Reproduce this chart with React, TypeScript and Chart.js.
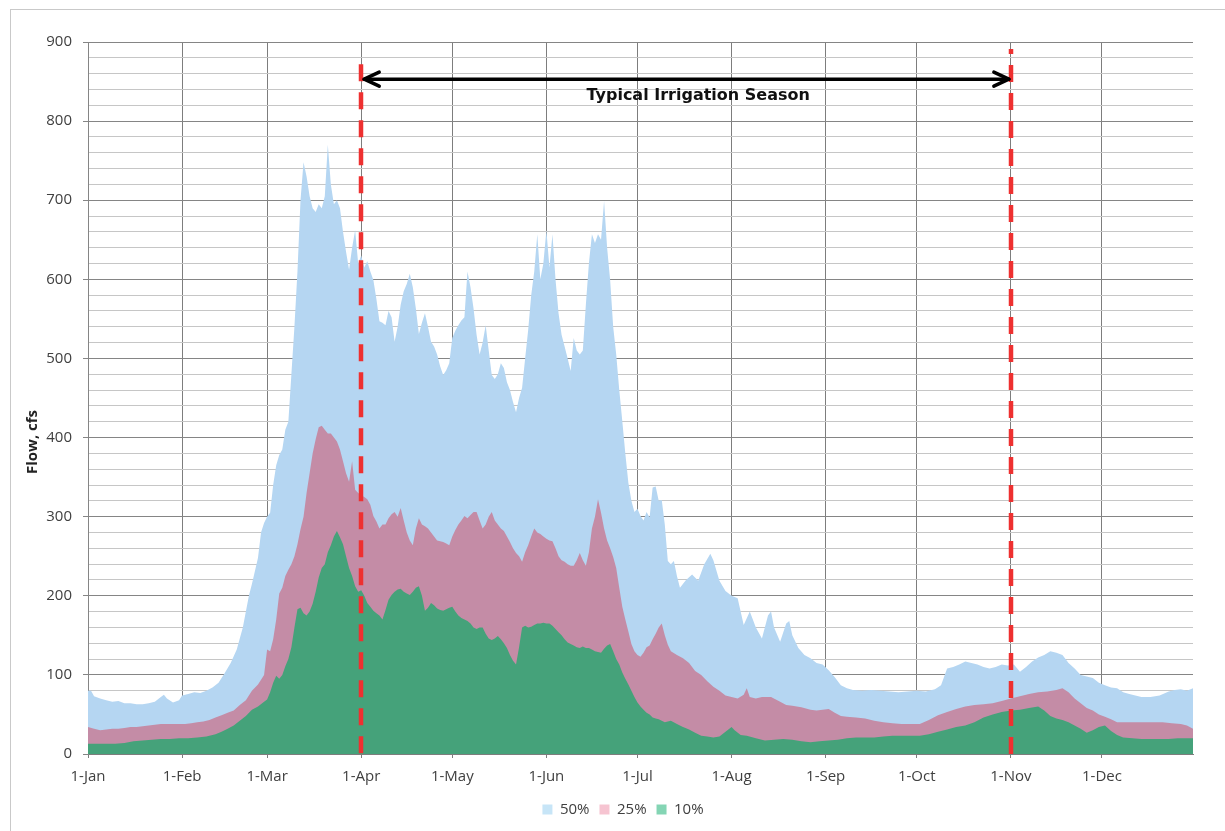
import React, { useEffect, useRef } from "react";
import { Chart, registerables } from "chart.js";

Chart.register(...registerables);

// ---- Data (day of year, flow in cfs) ----
const monthStarts = [0, 31, 59, 90, 120, 151, 181, 212, 243, 273, 304, 334];
const monthLabels = ["1-Jan", "1-Feb", "1-Mar", "1-Apr", "1-May", "1-Jun", "1-Jul", "1-Aug", "1-Sep", "1-Oct", "1-Nov", "1-Dec"];
const seriesNames = ["50%", "25%", "10%"];

const flow50: number[][] = [
  [0, 80], [1, 80], [2, 73], [4, 70], [6, 68], [8, 66], [10, 67], [12, 64], [14, 64], [16, 63], [18, 63], [20, 64], [22, 66],
  [24, 72], [25, 75], [26, 70], [28, 65], [30, 68], [31, 74], [33, 76], [35, 78], [37, 77], [39, 80], [41, 84], [43, 90],
  [45, 102], [47, 115], [49, 132], [51, 160], [53, 200], [54, 215], [56, 248], [57, 280], [58, 292], [59, 300], [60, 305],
  [61, 340], [62, 365], [63, 378], [64, 385], [65, 410], [66, 420], [67, 480], [68, 540], [69, 610], [70, 700], [71, 748],
  [72, 730], [73, 705], [74, 690], [75, 685], [76, 695], [77, 690], [78, 705], [79, 770], [80, 720], [81, 695], [82, 700],
  [83, 690], [84, 660], [85, 635], [86, 612], [87, 640], [88, 662], [89, 620], [90, 630], [91, 615], [92, 623], [93, 610],
  [94, 599], [95, 575], [96, 547], [97, 545], [98, 542], [99, 560], [100, 552], [101, 521], [102, 540], [103, 568], [104, 585],
  [105, 594], [106, 607], [107, 590], [108, 563], [109, 531], [110, 545], [111, 557], [112, 540], [113, 521], [114, 515],
  [115, 505], [116, 490], [117, 479], [118, 485], [119, 494], [120, 526], [121, 535], [122, 542], [123, 548], [124, 552],
  [125, 610], [126, 590], [127, 563], [128, 530], [129, 505], [130, 520], [131, 542], [132, 510], [133, 479], [134, 474],
  [135, 480], [136, 494], [137, 488], [138, 470], [139, 460], [140, 445], [141, 432], [142, 450], [143, 463], [144, 500],
  [145, 536], [146, 580], [147, 610], [148, 657], [149, 600], [150, 620], [151, 662], [152, 615], [153, 657], [154, 600],
  [155, 557], [156, 530], [157, 515], [158, 500], [159, 484], [160, 526], [161, 510], [162, 505], [163, 510], [164, 568],
  [165, 620], [166, 657], [167, 646], [168, 657], [169, 650], [170, 699], [171, 640], [172, 599], [173, 540], [174, 505],
  [175, 460], [176, 421], [177, 380], [178, 343], [179, 320], [180, 306], [181, 310], [182, 301], [183, 295], [184, 306],
  [185, 299], [186, 337], [187, 338], [188, 320], [189, 321], [190, 290], [191, 244], [192, 240], [193, 244], [194, 225],
  [195, 210], [197, 220], [199, 227], [201, 219], [203, 240], [205, 253], [206, 245], [208, 219], [210, 206], [212, 200],
  [214, 197], [216, 163], [218, 180], [220, 160], [222, 146], [224, 175], [225, 180], [226, 160], [228, 142], [230, 165],
  [231, 168], [232, 150], [234, 134], [236, 125], [238, 121], [240, 115], [242, 113], [244, 106], [246, 97], [248, 87],
  [250, 83], [252, 81], [255, 80], [258, 81], [261, 80], [264, 79], [267, 78], [270, 79], [273, 80], [276, 79], [279, 82],
  [281, 87], [283, 108], [285, 110], [287, 113], [289, 117], [291, 115], [293, 113], [295, 110], [297, 108], [299, 110],
  [301, 113], [303, 112], [305, 113], [307, 104], [309, 110], [311, 117], [313, 122], [315, 125], [317, 130], [319, 128],
  [321, 125], [323, 115], [325, 108], [327, 100], [329, 98], [331, 96], [333, 90], [335, 87], [337, 84], [339, 83], [341, 78],
  [343, 76], [345, 74], [347, 72], [350, 72], [353, 74], [356, 79], [358, 81], [360, 82], [362, 80], [364, 83],
];

const flow25: number[][] = [
  [0, 34], [2, 32], [4, 30], [6, 31], [8, 32], [10, 32], [12, 33], [14, 34], [16, 34], [18, 35], [20, 36], [22, 37], [24, 38],
  [26, 38], [28, 38], [30, 38], [32, 38], [34, 39], [36, 40], [38, 41], [40, 43], [42, 46], [44, 49], [46, 52], [48, 55],
  [50, 62], [52, 68], [54, 80], [56, 88], [58, 100], [59, 132], [60, 130], [61, 145], [62, 170], [63, 203], [64, 210],
  [65, 225], [66, 233], [67, 240], [68, 250], [69, 265], [70, 284], [71, 300], [72, 330], [73, 355], [74, 380], [75, 398],
  [76, 413], [77, 415], [78, 410], [79, 405], [80, 405], [81, 400], [82, 395], [83, 385], [84, 370], [85, 355], [86, 344],
  [87, 370], [88, 334], [89, 330], [90, 327], [91, 325], [92, 322], [93, 315], [94, 301], [95, 294], [96, 285], [97, 290],
  [98, 290], [99, 298], [100, 303], [101, 306], [102, 300], [103, 311], [104, 295], [105, 280], [106, 270], [107, 264],
  [108, 285], [109, 298], [110, 290], [111, 288], [112, 285], [113, 280], [114, 275], [115, 270], [116, 269], [117, 268],
  [118, 266], [119, 264], [120, 275], [121, 283], [122, 290], [123, 295], [124, 301], [125, 298], [126, 302], [127, 306],
  [128, 306], [129, 295], [130, 285], [131, 290], [132, 300], [133, 306], [134, 295], [135, 290], [136, 285], [137, 282],
  [138, 275], [139, 268], [140, 260], [141, 254], [142, 250], [143, 243], [144, 255], [145, 264], [146, 275], [147, 285],
  [148, 280], [149, 278], [150, 275], [151, 272], [152, 270], [153, 269], [154, 260], [155, 250], [156, 245], [157, 243],
  [158, 240], [159, 238], [160, 238], [161, 245], [162, 254], [163, 245], [164, 238], [165, 255], [166, 285], [167, 300],
  [168, 322], [169, 305], [170, 285], [171, 270], [172, 260], [173, 249], [174, 235], [175, 210], [176, 186], [177, 170],
  [178, 155], [179, 139], [180, 130], [181, 125], [182, 123], [183, 128], [184, 135], [185, 137], [186, 145], [187, 152],
  [188, 160], [189, 165], [190, 150], [191, 138], [192, 130], [194, 125], [196, 121], [198, 115], [200, 105], [202, 100],
  [204, 92], [206, 85], [208, 80], [210, 74], [212, 72], [214, 70], [216, 75], [217, 83], [218, 72], [220, 70], [222, 72],
  [225, 72], [228, 66], [230, 62], [232, 61], [235, 59], [238, 56], [240, 55], [242, 56], [244, 57], [246, 52], [248, 48],
  [250, 47], [253, 46], [256, 45], [259, 42], [262, 40], [265, 39], [268, 38], [271, 38], [274, 38], [277, 43], [280, 49],
  [283, 53], [286, 57], [289, 60], [292, 62], [295, 63], [298, 64], [301, 67], [304, 70], [307, 73], [310, 76], [313, 78],
  [316, 79], [319, 81], [321, 83], [323, 78], [325, 70], [327, 64], [329, 58], [331, 55], [333, 50], [335, 47], [337, 44],
  [339, 40], [342, 40], [345, 40], [348, 40], [351, 40], [354, 40], [357, 39], [360, 38], [362, 36], [364, 32],
];

const flow10: number[][] = [
  [0, 13], [3, 13], [6, 13], [9, 13], [12, 14], [15, 16], [18, 17], [21, 18], [24, 19], [27, 19], [30, 20], [33, 20], [36, 21],
  [39, 22], [42, 25], [44, 28], [46, 32], [48, 36], [50, 42], [52, 48], [54, 56], [56, 60], [58, 66], [59, 69], [60, 78],
  [61, 90], [62, 99], [63, 95], [64, 100], [65, 111], [66, 120], [67, 135], [68, 160], [69, 183], [70, 185], [71, 178],
  [72, 175], [73, 180], [74, 190], [75, 205], [76, 223], [77, 235], [78, 240], [79, 255], [80, 264], [81, 275], [82, 282],
  [83, 274], [84, 265], [85, 250], [86, 235], [87, 225], [88, 212], [89, 205], [90, 207], [91, 200], [92, 191], [93, 186],
  [94, 181], [95, 178], [96, 175], [97, 170], [98, 182], [99, 195], [100, 201], [101, 205], [102, 208], [103, 209], [104, 205],
  [105, 203], [106, 201], [107, 205], [108, 210], [109, 212], [110, 200], [111, 181], [112, 185], [113, 191], [114, 188],
  [115, 184], [116, 182], [117, 181], [118, 183], [119, 185], [120, 186], [121, 180], [122, 175], [123, 172], [124, 170],
  [125, 168], [126, 165], [127, 160], [128, 158], [129, 160], [130, 160], [131, 152], [132, 146], [133, 144], [134, 146],
  [135, 149], [136, 145], [137, 140], [138, 134], [139, 125], [140, 118], [141, 113], [142, 135], [143, 160], [144, 162],
  [145, 160], [146, 161], [147, 163], [148, 165], [149, 165], [150, 166], [151, 165], [152, 165], [153, 162], [154, 158],
  [155, 154], [156, 150], [157, 145], [158, 141], [159, 139], [160, 137], [161, 135], [162, 134], [163, 136], [164, 134],
  [165, 134], [166, 132], [167, 130], [168, 129], [169, 128], [170, 133], [171, 137], [172, 139], [173, 130], [174, 120],
  [175, 113], [176, 103], [177, 95], [178, 88], [179, 80], [180, 72], [181, 65], [182, 60], [183, 56], [184, 52], [185, 50],
  [186, 46], [187, 45], [188, 44], [189, 42], [190, 40], [192, 42], [194, 38], [196, 34], [198, 31], [200, 27], [202, 23],
  [204, 22], [206, 21], [208, 22], [210, 28], [212, 34], [213, 30], [215, 24], [217, 23], [220, 20], [223, 17], [226, 18],
  [229, 19], [232, 18], [235, 16], [238, 15], [241, 16], [244, 17], [247, 18], [250, 20], [253, 21], [256, 21], [259, 21],
  [262, 22], [265, 23], [268, 23], [271, 23], [274, 23], [277, 25], [280, 28], [283, 31], [286, 34], [289, 36], [292, 40],
  [295, 46], [298, 50], [301, 53], [304, 55], [307, 56], [310, 58], [313, 60], [315, 55], [317, 48], [319, 45], [321, 43],
  [323, 40], [325, 36], [327, 32], [329, 27], [331, 30], [333, 34], [335, 36], [337, 29], [339, 24], [341, 21], [344, 20],
  [347, 19], [350, 19], [353, 19], [356, 19], [359, 20], [362, 20], [364, 20],
];

// annotation values
const seasonStartDay = 90;
const seasonEndDay = 304;
const seasonStartTop = 872;
const seasonEndTop = 891;
const arrowValue = 853;
const seasonLabel = "Typical Irrigation Season";
const seasonLabelDay = 201;
const seasonLabelValue = 832;
const yTitle = "Flow, cfs";

const areaColors = ["#b5d6f2", "#c48ca6", "#45a27a"];
const legendColors = ["#c7e5f7", "#f6c4d1", "#84d5b4"];
const FONT = "'Open Sans', 'Noto Sans', sans-serif";

export default function App() {
  const ref = useRef<HTMLCanvasElement | null>(null);

  useEffect(() => {
    document.body.style.margin = "0";
    const canvas = ref.current;
    if (!canvas) return;

    const toPts = (arr: number[][]) => arr.map(([x, y]) => ({ x, y }));
    const allSeries = [flow50, flow25, flow10];

    const annotationPlugin = {
      id: "irrigationAnnotations",
      afterDraw(chart: any) {
        const { ctx } = chart;
        const xs = chart.scales.x;
        const ys = chart.scales.y;
        ctx.save();
        // red dashed season lines
        ctx.strokeStyle = "#ee3030";
        ctx.lineWidth = 4.5;
        ctx.setLineDash([17, 11]);
        const drawRed = (day: number, top: number, offset: number) => {
          const px = Math.round(xs.getPixelForValue(day));
          ctx.lineDashOffset = offset;
          ctx.beginPath();
          ctx.moveTo(px, ys.getPixelForValue(top));
          ctx.lineTo(px, ys.getPixelForValue(0));
          ctx.stroke();
        };
        drawRed(seasonStartDay, seasonStartTop, 0);
        drawRed(seasonEndDay, seasonEndTop, 12);
        ctx.setLineDash([]);

        // double-headed arrow
        const x1 = xs.getPixelForValue(seasonStartDay) + 3;
        const x2 = xs.getPixelForValue(seasonEndDay) - 2;
        const ay = ys.getPixelForValue(arrowValue);
        ctx.strokeStyle = "#000";
        ctx.lineWidth = 3.5;
        ctx.lineCap = "round";
        ctx.lineJoin = "round";
        ctx.beginPath();
        ctx.moveTo(x1, ay);
        ctx.lineTo(x2, ay);
        ctx.stroke();
        ctx.beginPath();
        ctx.moveTo(x1 + 15, ay - 7);
        ctx.lineTo(x1, ay);
        ctx.lineTo(x1 + 15, ay + 7);
        ctx.moveTo(x2 - 15, ay - 7);
        ctx.lineTo(x2, ay);
        ctx.lineTo(x2 - 15, ay + 7);
        ctx.stroke();

        // label
        ctx.fillStyle = "#111";
        ctx.font = "bold 16px 'DejaVu Sans', sans-serif";
        ctx.textAlign = "center";
        ctx.textBaseline = "middle";
        ctx.fillText(seasonLabel, xs.getPixelForValue(seasonLabelDay), ys.getPixelForValue(seasonLabelValue));

        // y axis title
        ctx.translate(33, 442);
        ctx.rotate(-Math.PI / 2);
        ctx.font = `bold 15px ${FONT}`;
        ctx.fillStyle = "#222";
        ctx.fillText(yTitle, 0, 0);
        ctx.restore();
      },
    };

    const chart = new Chart(canvas, {
      type: "line",
      data: {
        datasets: allSeries.map((s, i) => ({
          label: seriesNames[i],
          data: toPts(s),
          backgroundColor: areaColors[i],
          borderColor: areaColors[i],
          borderWidth: 0,
          pointRadius: 0,
          fill: "origin",
          tension: 0,
          order: 3 - i,
        })),
      },
      options: {
        animation: false,
        responsive: false,
        parsing: false as any,
        layout: { padding: { left: 0, right: -21, top: 42, bottom: 4 } },
        plugins: {
          tooltip: { enabled: false },
          legend: {
            position: "bottom",
            labels: {
              boxWidth: 10,
              boxHeight: 10,
              padding: 10,
              color: "#404040",
              font: { family: FONT, size: 15 },
              sort: (a: any, b: any) => a.datasetIndex - b.datasetIndex,
              generateLabels: (chart: any) =>
                Chart.defaults.plugins.legend.labels.generateLabels(chart).map((l: any) => ({
                  ...l,
                  fillStyle: legendColors[l.datasetIndex],
                  strokeStyle: legendColors[l.datasetIndex],
                  lineWidth: 0,
                })),
            },
          },
        },
        scales: {
          x: {
            type: "linear",
            min: 0,
            max: 364,
            z: 1,
            afterFit: (s: any) => {
              s.height = 38;
            },
            afterBuildTicks: (s: any) => {
              s.ticks = monthStarts.map((v) => ({ value: v }));
            },
            ticks: {
              autoSkip: false,
              maxRotation: 0,
              padding: 10,
              color: "#404040",
              font: { family: FONT, size: 15 },
              callback: (v: any) => {
                const idx = monthStarts.indexOf(Number(v));
                return idx >= 0 ? monthLabels[idx] : "";
              },
            },
            grid: { color: "#7d7d7d", lineWidth: 1, tickLength: 4, tickColor: "#7d7d7d" },
            border: { color: "#7d7d7d", width: 1 },
          },
          y: {
            min: 0,
            max: 900,
            z: 1,
            afterFit: (s: any) => {
              s.width = 88;
            },
            ticks: {
              stepSize: 20,
              autoSkip: false,
              padding: 11,
              color: "#404040",
              font: { family: FONT, size: 15 },
              callback: (v: any) => (Number(v) % 100 === 0 ? String(v) : ""),
            },
            grid: {
              color: (c: any) => (c.tick && c.tick.value % 100 === 0 ? "#858585" : "#c6c6c6"),
              tickColor: (c: any) => (c.tick && c.tick.value % 100 === 0 ? "#858585" : "rgba(0,0,0,0)"),
              tickLength: 5,
              lineWidth: 1,
            },
            border: { color: "#858585", width: 1 },
          },
          yPad: {
            type: "linear",
            position: "right",
            min: 0,
            max: 1,
            afterFit: (s: any) => {
              s.width = 53;
            },
            ticks: { display: false },
            grid: { display: false, drawTicks: false },
            border: { display: false },
          },
        },
      },
      plugins: [annotationPlugin],
    } as any);

    return () => chart.destroy();
  }, []);

  return (
    <div style={{ position: "relative", width: 1225, height: 831, overflow: "hidden", background: "#fff" }}>
      <canvas ref={ref} width={1225} height={831} style={{ position: "absolute", left: 0, top: 0, width: 1225, height: 831 }} />
      <div
        style={{
          position: "absolute",
          left: 10,
          top: 9,
          width: 1240,
          height: 860,
          border: "1px solid #c9c9c9",
          pointerEvents: "none",
        }}
      />
    </div>
  );
}
